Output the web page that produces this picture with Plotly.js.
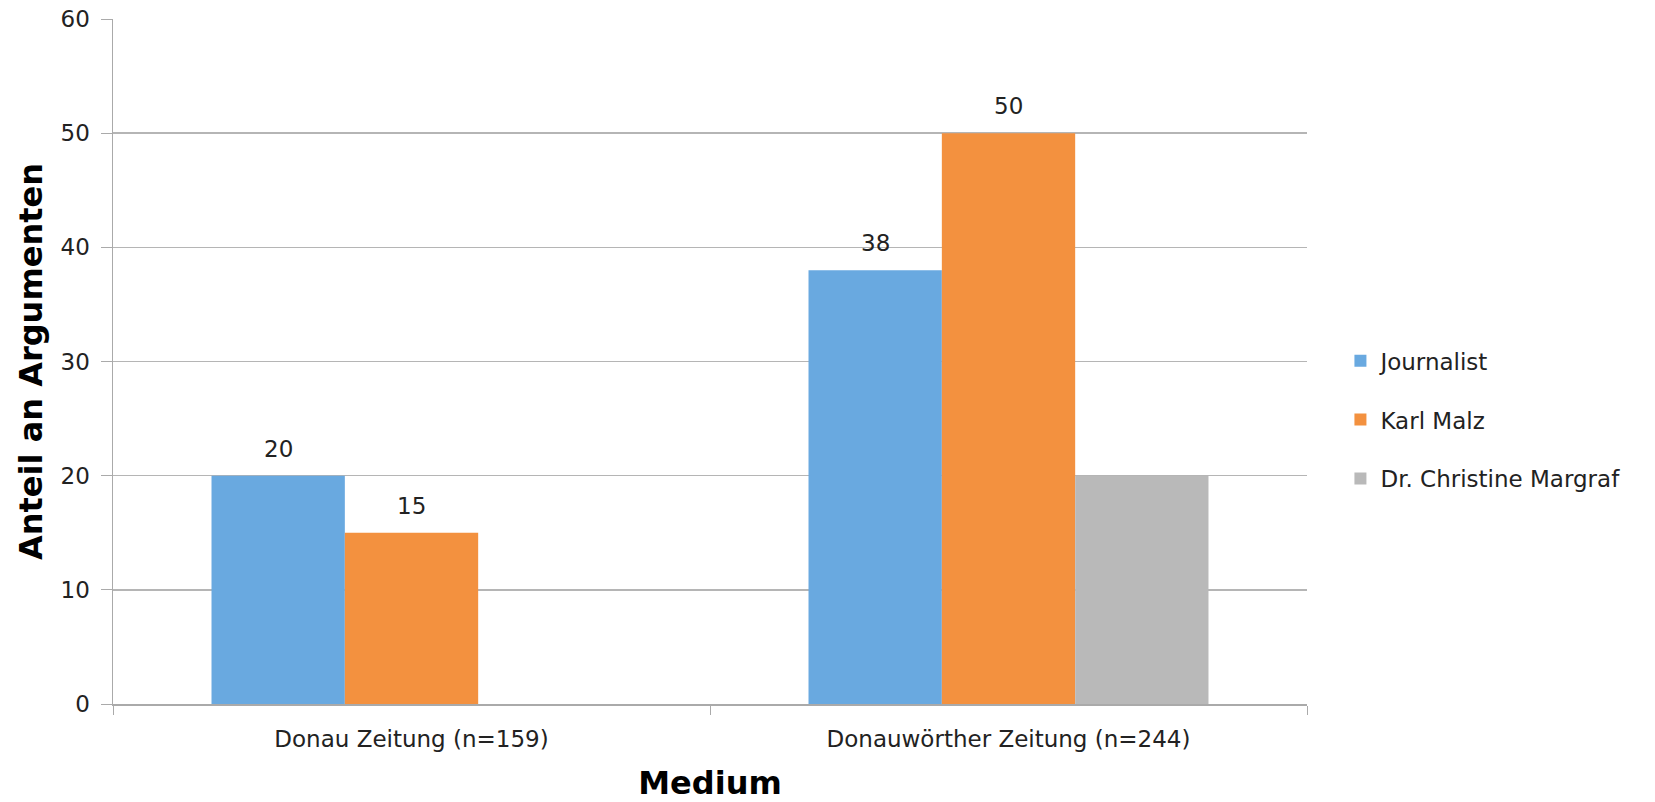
<!DOCTYPE html>
<html><head><meta charset="utf-8">
<script src="https://cdn.plot.ly/plotly-3.0.1.min.js"></script>
<style>html,body{margin:0;padding:0;background:#fff}#chart{width:1655px;height:802px}</style>
</head><body><div id="chart"></div>
<script>
const categories = ["Donau Zeitung (n=159)", "Donauwörther Zeitung (n=244)"];
const seriesNames = ["Journalist", "Karl Malz", "Dr. Christine Margraf"];
const journalist = [20, 38];
const karlMalz = [15, 50];
const margraf = [null, 20];
const yTicks = [0, 10, 20, 30, 40, 50, 60];

const font = "'DejaVu Sans', sans-serif";
const titleFont = {family: "'DejaVu Sans', sans-serif", size: 32, color: "#000", weight: "bold"};
const colors = ["#69a9e0", "#f3913f", "#b9b9b9"];
const showLabels = [true, true, false];
const series = [journalist, karlMalz, margraf];
const bargap = 0.33;

const data = series.map((vals, i) => ({
  type: "bar",
  name: seriesNames[i],
  legendgroup: "g" + i,
  x: categories,
  y: vals,
  marker: {color: colors[i]},
  hoverinfo: "skip"
}));

// value labels placed via a hidden numeric axis aligned with the categories
const annotations = [];
const nS = series.length;
const slot = (1 - bargap) / nS;
series.forEach((vals, i) => {
  if (!showLabels[i]) return;
  vals.forEach((v, j) => {
    if (v == null) return;
    annotations.push({
      xref: "x2", yref: "y",
      x: j + (i - (nS - 1) / 2) * slot, y: v,
      text: String(v), showarrow: false,
      yanchor: "bottom", yshift: 12,
      font: {family: font, size: 23, color: "#222"}
    });
  });
});

const layout = {
  width: 1655, height: 802,
  paper_bgcolor: "#fff", plot_bgcolor: "#fff",
  margin: {l: 113, r: 348, t: 19, b: 98},
  barmode: "group", bargap: bargap, bargroupgap: 0,
  font: {family: font, size: 23, color: "#222"},
  xaxis: {
    type: "category",
    showline: true, linecolor: "#aaaaaa", linewidth: 1.5,
    ticks: "outside", ticklen: 9, tickcolor: "#aaaaaa", tickson: "boundaries",
    ticklabelstandoff: 14,
    tickfont: {family: font, size: 23, color: "#222"},
    title: {text: "Medium", font: titleFont, standoff: 24}
  },
  xaxis2: {
    overlaying: "x", range: [-0.5, 1.5], visible: false, showgrid: false, zeroline: false
  },
  yaxis: {
    range: [0, 60], tickvals: yTicks, ticktext: yTicks.map(String),
    showgrid: true, gridcolor: "#b5b5b5", gridwidth: 1.5,
    showline: true, linecolor: "#aaaaaa", linewidth: 1.5,
    ticks: "outside", ticklen: 11, tickcolor: "#aaaaaa",
    ticklabelstandoff: 6,
    zeroline: false,
    tickfont: {family: font, size: 23, color: "#222"},
    title: {text: "Anteil an Argumenten", font: titleFont, standoff: 8}
  },
  legend: {
    x: 1.028, y: 0.415, xanchor: "left", yanchor: "middle",
    font: {family: font, size: 23, color: "#222"},
    traceorder: "grouped", tracegroupgap: 26, itemwidth: 30
  },
  annotations: annotations,
  showlegend: true
};
Plotly.newPlot("chart", data, layout, {staticPlot: true});
</script></body></html>
